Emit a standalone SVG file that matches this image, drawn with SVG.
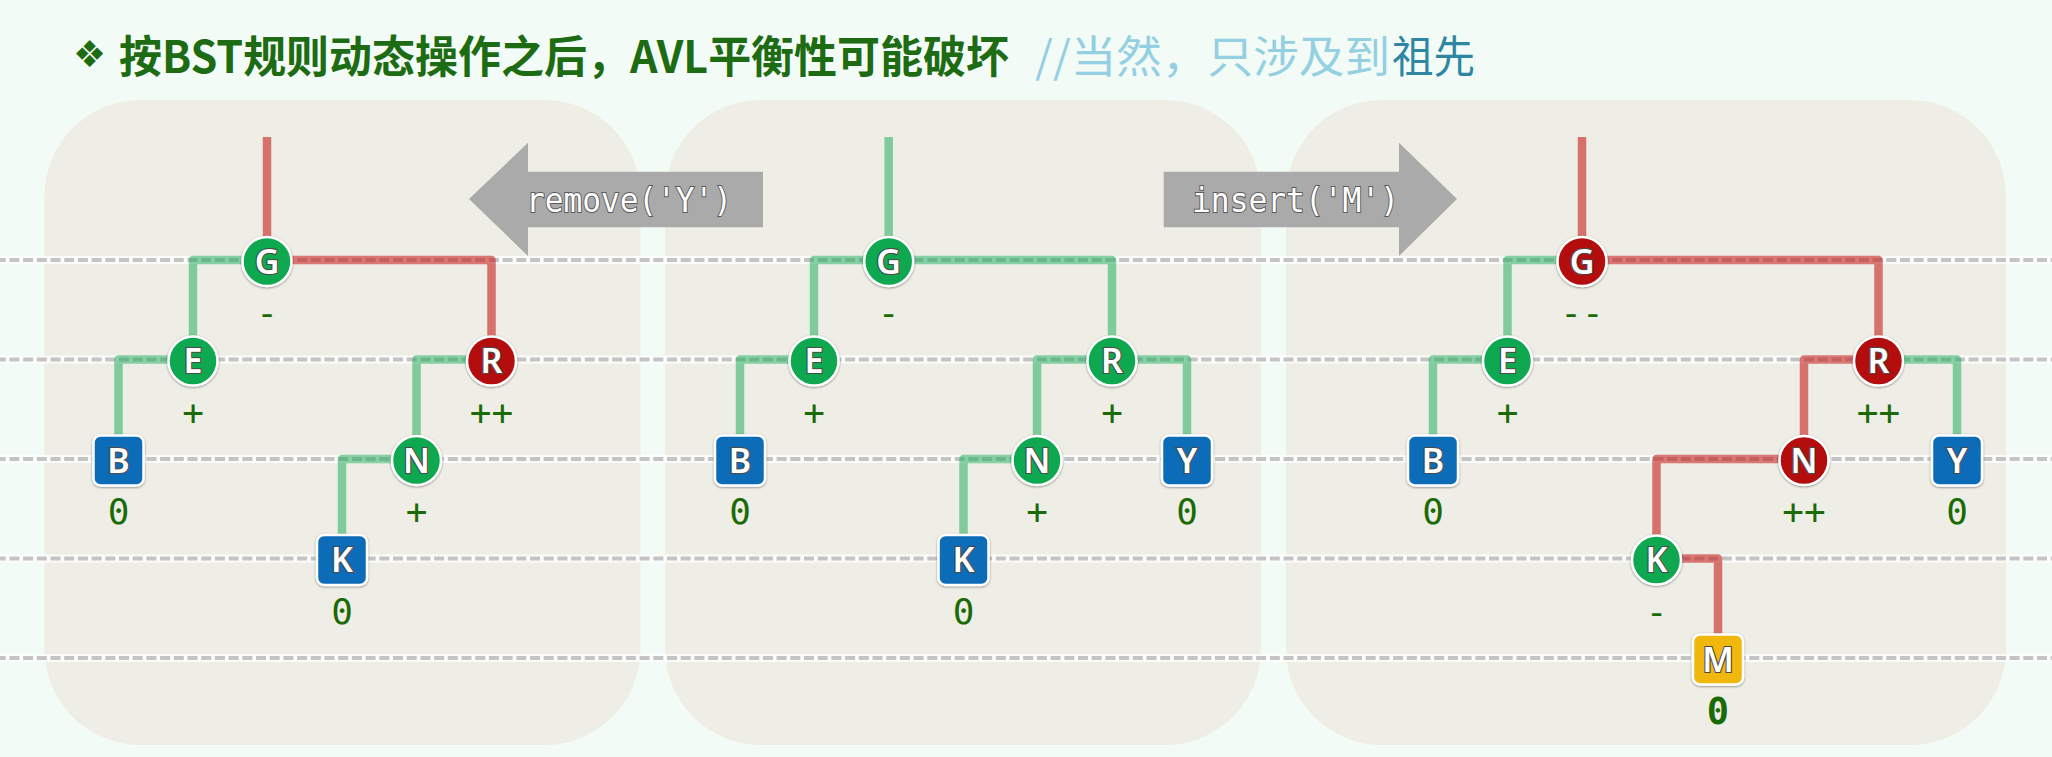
<svg xmlns="http://www.w3.org/2000/svg" width="2052" height="757" viewBox="0 0 2052 757">
<defs>
<style>
.panel{fill:#efeee6}
.halo{stroke:#ffffff;stroke-opacity:0.75;stroke-width:8;fill:none}
.dash{stroke:#c4c4c4;stroke-width:4;stroke-dasharray:10 3.7;stroke-dashoffset:4.3;fill:none}
.edge{fill:none;stroke-width:8.5;stroke-linejoin:round}
.eg{stroke:#12a850;stroke-opacity:0.5}
.er{stroke:#c41f1a;stroke-opacity:0.6}
.nd{stroke:#ffffff;stroke-width:2.5}
.cg{fill:#0ea84f}
.cr{fill:#b40c0c}
.cb{fill:#0b6cb8}
.cy{fill:#f0b70c}
.lt{font-family:"Noto Sans","Open Sans",sans-serif;font-weight:600;font-size:34px;fill:#ffffff;stroke:#4a4a4a;stroke-width:2.2;paint-order:stroke;text-anchor:middle}
.bf{font-family:"DejaVu Sans Mono","Liberation Mono",monospace;font-size:36px;fill:#1a6a06;text-anchor:middle}
.bfb{font-weight:bold;font-size:37px}
.arrow{fill:#aaaaaa}
.at{font-family:"DejaVu Sans Mono","Liberation Mono",monospace;font-size:34px;fill:#ffffff;stroke:#5a5a5a;stroke-width:2;paint-order:stroke}
.title{font-family:"Noto Sans CJK SC","Noto Sans",sans-serif;font-size:44px;font-weight:bold;fill:#1d6b12}
.cmt{font-family:"Noto Sans CJK SC","Noto Sans",sans-serif;font-size:44px;fill:#94cfe2}
</style>
<filter id="sh" x="-30%" y="-30%" width="160%" height="160%">
<feDropShadow dx="0" dy="0.8" stdDeviation="1" flood-color="#000000" flood-opacity="0.45"/>
</filter>
</defs>
<rect x="0" y="0" width="2052" height="757" fill="#f3fbf6"/>
<g id="title">
<text x="73" y="67" style="font-family:'DejaVu Sans',sans-serif;font-size:37px;fill:#1d6b12">❖</text>
<text class="title" x="119" y="73" textLength="890" lengthAdjust="spacingAndGlyphs">按BST规则动态操作之后，AVL平衡性可能破坏</text>
<text class="cmt" x="1035" y="73" textLength="355" lengthAdjust="spacingAndGlyphs">//当然，只涉及到</text>
<text class="cmt" x="1392" y="73" textLength="83" lengthAdjust="spacingAndGlyphs" style="fill:#2e86a2">祖先</text>
</g>
<g id="panels">
<rect class="panel" x="44.5" y="100" width="596" height="645" rx="96" ry="96"/>
<rect class="panel" x="665" y="100" width="596" height="645" rx="96" ry="96"/>
<rect class="panel" x="1286" y="100" width="720" height="645" rx="96" ry="96"/>
</g>
<g id="levels">
<path class="halo" d="M0,260H2052M0,359.5H2052M0,459H2052M0,558.5H2052M0,658H2052"/>
<path class="dash" d="M0,260H2052M0,359.5H2052M0,459H2052M0,558.5H2052M0,658H2052"/>
</g>
<g id="arrows">
<g id="arrow-remove">
<polygon class="arrow" points="469,199 528,142.7 528,171.7 763,171.7 763,227.3 528,227.3 528,256"/>
<text class="at" x="526" y="211.5" textLength="206" lengthAdjust="spacingAndGlyphs">remove('Y')</text>
</g>
<g id="arrow-insert">
<polygon class="arrow" points="1457,199 1399,142.7 1399,171.7 1163.7,171.7 1163.7,227.3 1399,227.3 1399,256"/>
<text class="at" x="1192" y="211.5" textLength="207" lengthAdjust="spacingAndGlyphs">insert('M')</text>
</g>
</g>
<g id="connectors">
<path class="edge er" d="M267,137V261"/>
<path class="edge eg" d="M267,260H193V361"/>
<path class="edge er" d="M267,260H491.5V361"/>
<path class="edge eg" d="M193,359.5H118.5V460"/>
<path class="edge eg" d="M491.5,359.5H416.5V460"/>
<path class="edge eg" d="M416.5,459H342V560"/>
<path class="edge eg" d="M888.7,137V261"/>
<path class="edge eg" d="M888.7,260H814V361"/>
<path class="edge eg" d="M888.7,260H1112V361"/>
<path class="edge eg" d="M814,359.5H740V460"/>
<path class="edge eg" d="M1112,359.5H1037V460"/>
<path class="edge eg" d="M1112,359.5H1187V460"/>
<path class="edge eg" d="M1037,459H963.5V560"/>
<path class="edge er" d="M1582,137V261"/>
<path class="edge eg" d="M1582,260H1507.5V361"/>
<path class="edge er" d="M1582,260H1878.5V361"/>
<path class="edge eg" d="M1507.5,359.5H1433V460"/>
<path class="edge er" d="M1878.5,359.5H1804V460"/>
<path class="edge eg" d="M1878.5,359.5H1957V460"/>
<path class="edge er" d="M1804,459H1656.5V560"/>
<path class="edge er" d="M1656.5,558.5H1718V659"/>
</g>
<g id="p1-G"><circle class="nd cg" cx="267" cy="261.5" r="24.5" filter="url(#sh)"/><text class="lt" x="267" y="273.5">G</text><text class="bf" x="267" y="325">-</text></g>
<g id="p1-E"><circle class="nd cg" cx="193" cy="361" r="24.5" filter="url(#sh)"/><text class="lt" x="193" y="373">E</text><text class="bf" x="193" y="425">+</text></g>
<g id="p1-R"><circle class="nd cr" cx="491.5" cy="361" r="24.5" filter="url(#sh)"/><text class="lt" x="491.5" y="373">R</text><text class="bf" x="491.5" y="425">++</text></g>
<g id="p1-B"><rect class="nd cb" x="93.5" y="435.5" width="50" height="50" rx="7" filter="url(#sh)"/><text class="lt" x="118.5" y="472.5">B</text><text class="bf" x="118.5" y="524">0</text></g>
<g id="p1-N"><circle class="nd cg" cx="416.5" cy="460.5" r="24.5" filter="url(#sh)"/><text class="lt" x="416.5" y="472.5">N</text><text class="bf" x="416.5" y="524">+</text></g>
<g id="p1-K"><rect class="nd cb" x="317" y="535" width="50" height="50" rx="7" filter="url(#sh)"/><text class="lt" x="342" y="572">K</text><text class="bf" x="342" y="623.5">0</text></g>
<g id="p2-G"><circle class="nd cg" cx="888.7" cy="261.5" r="24.5" filter="url(#sh)"/><text class="lt" x="888.7" y="273.5">G</text><text class="bf" x="888.7" y="325">-</text></g>
<g id="p2-E"><circle class="nd cg" cx="814" cy="361" r="24.5" filter="url(#sh)"/><text class="lt" x="814" y="373">E</text><text class="bf" x="814" y="425">+</text></g>
<g id="p2-R"><circle class="nd cg" cx="1112" cy="361" r="24.5" filter="url(#sh)"/><text class="lt" x="1112" y="373">R</text><text class="bf" x="1112" y="425">+</text></g>
<g id="p2-B"><rect class="nd cb" x="715" y="435.5" width="50" height="50" rx="7" filter="url(#sh)"/><text class="lt" x="740" y="472.5">B</text><text class="bf" x="740" y="524">0</text></g>
<g id="p2-N"><circle class="nd cg" cx="1037" cy="460.5" r="24.5" filter="url(#sh)"/><text class="lt" x="1037" y="472.5">N</text><text class="bf" x="1037" y="524">+</text></g>
<g id="p2-Y"><rect class="nd cb" x="1162" y="435.5" width="50" height="50" rx="7" filter="url(#sh)"/><text class="lt" x="1187" y="472.5">Y</text><text class="bf" x="1187" y="524">0</text></g>
<g id="p2-K"><rect class="nd cb" x="938.5" y="535" width="50" height="50" rx="7" filter="url(#sh)"/><text class="lt" x="963.5" y="572">K</text><text class="bf" x="963.5" y="623.5">0</text></g>
<g id="p3-G"><circle class="nd cr" cx="1582" cy="261.5" r="24.5" filter="url(#sh)"/><text class="lt" x="1582" y="273.5">G</text><text class="bf" x="1582" y="325">--</text></g>
<g id="p3-E"><circle class="nd cg" cx="1507.5" cy="361" r="24.5" filter="url(#sh)"/><text class="lt" x="1507.5" y="373">E</text><text class="bf" x="1507.5" y="425">+</text></g>
<g id="p3-R"><circle class="nd cr" cx="1878.5" cy="361" r="24.5" filter="url(#sh)"/><text class="lt" x="1878.5" y="373">R</text><text class="bf" x="1878.5" y="425">++</text></g>
<g id="p3-B"><rect class="nd cb" x="1408" y="435.5" width="50" height="50" rx="7" filter="url(#sh)"/><text class="lt" x="1433" y="472.5">B</text><text class="bf" x="1433" y="524">0</text></g>
<g id="p3-N"><circle class="nd cr" cx="1804" cy="460.5" r="24.5" filter="url(#sh)"/><text class="lt" x="1804" y="472.5">N</text><text class="bf" x="1804" y="524">++</text></g>
<g id="p3-Y"><rect class="nd cb" x="1932" y="435.5" width="50" height="50" rx="7" filter="url(#sh)"/><text class="lt" x="1957" y="472.5">Y</text><text class="bf" x="1957" y="524">0</text></g>
<g id="p3-K"><circle class="nd cg" cx="1656.5" cy="560" r="24.5" filter="url(#sh)"/><text class="lt" x="1656.5" y="572">K</text><text class="bf" x="1656.5" y="624">-</text></g>
<g id="p3-M"><rect class="nd cy" x="1693" y="634.5" width="50" height="50" rx="7" filter="url(#sh)"/><text class="lt" x="1718" y="671.5">M</text><text class="bf bfb" x="1718" y="723.5">0</text></g>
</svg>
